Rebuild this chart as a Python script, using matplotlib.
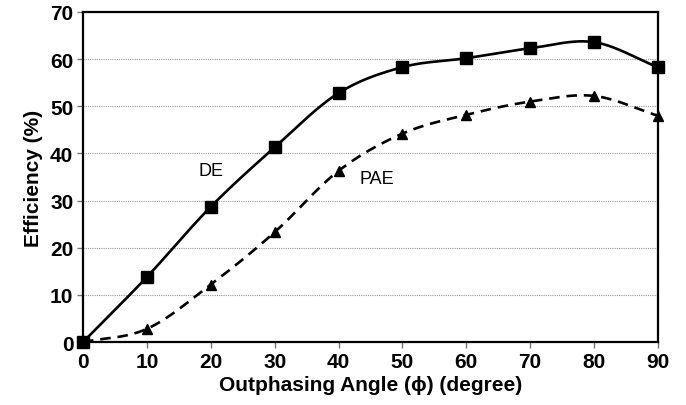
import numpy as np
import matplotlib
matplotlib.use("Agg")
import matplotlib.pyplot as plt

plt.rcParams.update({
    "font.family": ["Liberation Sans", "DejaVu Sans"],
    "font.weight": "bold",
})

angle = [0, 10, 20, 30, 40, 50, 60, 70, 80, 90]
de = [0, 13.8, 28.7, 41.3, 52.8, 58.3, 60.2, 62.3, 63.6, 58.3]
pae = [0, 2.8, 12.2, 23.3, 36.3, 44.2, 48.2, 51.0, 52.2, 48.0]


def smooth(x, y, n=30):
    # catmull-rom through the points, like a spreadsheet "smoothed line"
    x = np.asarray(x, float)
    y = np.asarray(y, float)
    px = np.concatenate([[2 * x[0] - x[1]], x, [2 * x[-1] - x[-2]]])
    py = np.concatenate([[2 * y[0] - y[1]], y, [2 * y[-1] - y[-2]]])
    xs, ys = [], []
    s = np.linspace(0, 1, n, endpoint=False)
    for i in range(1, len(px) - 2):
        for arr, out in ((px, xs), (py, ys)):
            p0, p1, p2, p3 = arr[i - 1:i + 3]
            out.extend(0.5 * ((2 * p1) + (-p0 + p2) * s
                              + (2 * p0 - 5 * p1 + 4 * p2 - p3) * s ** 2
                              + (-p0 + 3 * p1 - 3 * p2 + p3) * s ** 3))
    xs.append(x[-1])
    ys.append(y[-1])
    return np.array(xs), np.array(ys)


fig = plt.figure(figsize=(6.86, 4.06), dpi=100)
ax = fig.add_axes([0.121, 0.155, 0.838, 0.813])

sx, sy = smooth(angle, de)
ax.plot(sx, sy, color="black", lw=1.9, zorder=3)
ax.plot(angle, de, "s", color="black", ms=8, zorder=4, clip_on=False)

sx, sy = smooth(angle, pae)
ax.plot(sx, sy, color="black", lw=1.9, ls=(0, (4, 2.6)), zorder=3)
ax.plot(angle, pae, "^", color="black", ms=7.5, zorder=4, clip_on=False)

ax.text(20, 36.3, "DE", fontsize=13, fontweight="normal", ha="center", va="center")
ax.text(46, 34.6, "PAE", fontsize=13, fontweight="normal", ha="center", va="center")

ax.set_xlim(0, 90)
ax.set_ylim(0, 70)
ax.set_xticks(range(0, 91, 10))
ax.set_yticks(range(0, 71, 10))
ax.yaxis.grid(True, color="#999999", ls=(0, (1, 1)), lw=0.8)
ax.set_axisbelow(True)
for sp in ax.spines.values():
    sp.set_linewidth(1.6)
ax.tick_params(labelsize=15, width=1.0, length=4, direction="out",
               color="#777777", pad=3)
ax.set_xlabel("Outphasing Angle (\u03d5) (degree)", fontsize=15, fontweight="bold", labelpad=3)
ax.set_ylabel("Efficiency (%)", fontsize=15, fontweight="bold", labelpad=5)

fig.savefig("out.png", dpi=100)
